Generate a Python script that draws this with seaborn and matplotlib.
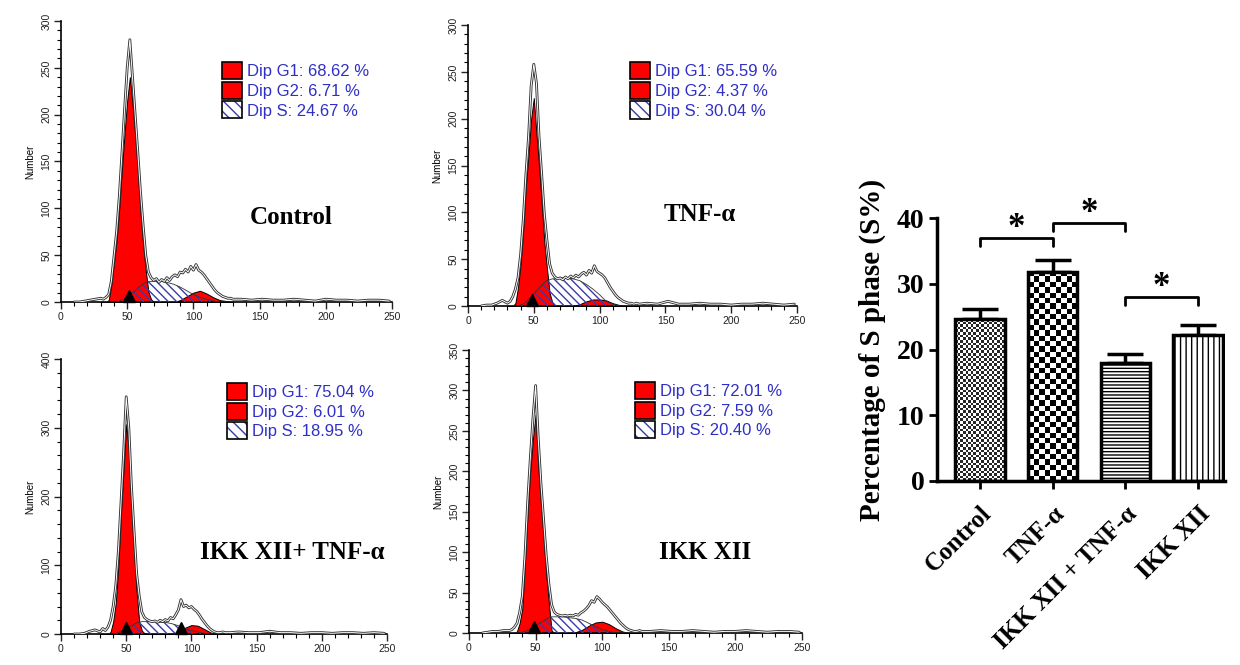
import numpy as np
import matplotlib
matplotlib.use('Agg')
import matplotlib.pyplot as plt
import matplotlib.patheffects as pe
from matplotlib.patches import Patch
from matplotlib.ticker import MultipleLocator
from matplotlib.transforms import offset_copy
import seaborn as sns

# ---- cell cycle histograms ----
panel_names = ['Control', 'TNF-α', 'IKK XII+ TNF-α', 'IKK XII']
dip_g1 = [68.62, 65.59, 75.04, 72.01]
dip_g2 = [6.71, 4.37, 6.01, 7.59]
dip_s = [24.67, 30.04, 18.95, 20.40]
y_max = [300, 300, 400, 350]
y_major = [50, 50, 100, 50]
peak_marks = [[51], [49], [50, 92], [49]]

# channels of the fitted components
fit_ch = [30, 34, 36, 38, 40, 42, 44, 46, 48, 50, 52, 54, 56, 58, 60, 62,
          64, 66, 68, 70, 75, 80, 85, 90, 95, 100, 105, 110, 115, 120, 125, 130]

g1_ctrl = [0, 0, 2, 18, 42, 66, 100, 142, 180, 215, 240, 212, 178, 140, 96, 62,
           34, 11, 3, 0, 0, 0, 0, 0, 0, 0, 0, 0, 0, 0, 0, 0]
s_ctrl = [0, 0, 0, 0, 0, 0, 1, 2, 4, 6, 8, 10, 12, 15, 17, 19,
          21, 22, 22, 22, 22, 21, 19, 16, 12, 8, 5, 3, 1, 0, 0, 0]
g2_ctrl = [0, 0, 0, 0, 0, 0, 0, 0, 0, 0, 0, 0, 0, 0, 0, 0,
           0, 0, 0, 0, 0, 0, 0, 2, 6, 10, 12, 9, 5, 2, 1, 0]

g1_tnf = [0, 0, 3, 20, 45, 82, 128, 162, 200, 222, 184, 150, 110, 68, 40, 14,
          4, 1, 0, 0, 0, 0, 0, 0, 0, 0, 0, 0, 0, 0, 0, 0]
s_tnf = [0, 0, 0, 0, 1, 2, 4, 7, 10, 13, 16, 19, 22, 25, 27, 28,
         29, 29, 30, 30, 30, 29, 27, 23, 18, 12, 5, 2, 0, 0, 0, 0]
g2_tnf = [0, 0, 0, 0, 0, 0, 0, 0, 0, 0, 0, 0, 0, 0, 0, 0,
          0, 0, 0, 0, 0, 0, 2, 5, 7, 7, 6, 3, 1, 0, 0, 0]

g1_combo = [0, 0, 0, 3, 18, 45, 100, 175, 240, 305, 268, 180, 120, 60, 18, 5,
            1, 0, 0, 0, 0, 0, 0, 0, 0, 0, 0, 0, 0, 0, 0, 0]
s_combo = [0, 0, 0, 0, 0, 1, 2, 4, 6, 8, 10, 12, 14, 16, 17, 18,
           18, 18, 18, 18, 17, 17, 15, 12, 8, 5, 3, 1, 0, 0, 0, 0]
g2_combo = [0, 0, 0, 0, 0, 0, 0, 0, 0, 0, 0, 0, 0, 0, 0, 0,
            0, 0, 0, 0, 0, 0, 0, 3, 9, 13, 12, 7, 2, 0, 0, 0]

g1_ikk = [0, 0, 2, 12, 30, 87, 148, 200, 240, 270, 205, 160, 117, 72, 36, 3,
          0, 0, 0, 0, 0, 0, 0, 0, 0, 0, 0, 0, 0, 0, 0, 0]
s_ikk = [0, 0, 0, 0, 1, 2, 3, 5, 7, 9, 11, 13, 15, 17, 19, 20,
         20, 20, 20, 20, 19, 18, 16, 12, 8, 4, 2, 0, 0, 0, 0, 0]
g2_ikk = [0, 0, 0, 0, 0, 0, 0, 0, 0, 0, 0, 0, 0, 0, 0, 0,
          0, 0, 0, 0, 0, 1, 4, 9, 13, 14, 11, 6, 2, 0, 0, 0]

# raw histogram counts
raw_ch = [10, 14, 18, 22, 26, 30] + list(range(32, 131, 2)) + list(range(136, 249, 8))

raw_ctrl = [0, 0, 1, 2, 3, 4,
            3, 5, 8, 22, 48, 75, 112, 158, 205, 250,
            280, 240, 200, 160, 118, 82, 50, 32, 26, 23,
            25, 21, 24, 22, 26, 23, 27, 29, 27, 32,
            31, 35, 32, 38, 34, 40, 34, 32, 29, 25,
            21, 17, 13, 10, 8, 6, 5, 4, 4, 3,
            3, 2, 3, 2, 2, 3, 2, 1, 3, 2, 2, 1, 2, 2, 1]
raw_tnf = [0, 1, 1, 3, 6, 3,
           5, 10, 18, 30, 55, 92, 140, 180, 235, 258,
           238, 180, 140, 98, 70, 45, 35, 31, 29, 30,
           28, 31, 29, 32, 30, 33, 31, 34, 36, 33,
           38, 35, 43, 37, 35, 33, 30, 25, 20, 16,
           12, 9, 7, 5, 4, 3, 3, 2, 3, 2,
           3, 2, 5, 2, 2, 3, 2, 2, 1, 2, 2, 3, 2, 1, 2]
raw_combo = [0, 0, 1, 4, 6, 3,
             8, 5, 10, 20, 40, 70, 120, 190, 262, 345,
             300, 215, 150, 88, 55, 32, 24, 21, 19, 18,
             19, 17, 20, 18, 21, 19, 24, 22, 28, 35,
             50, 40, 42, 38, 40, 36, 33, 28, 22, 17,
             12, 8, 5, 3, 2, 2, 3, 2, 2, 2,
             3, 2, 2, 4, 2, 2, 1, 2, 2, 1, 2, 2, 1, 2, 1]
raw_ikk = [0, 1, 2, 2, 3, 3,
           4, 7, 12, 25, 45, 95, 160, 215, 265, 306,
           240, 185, 140, 95, 60, 35, 26, 23, 22, 21,
           22, 21, 22, 21, 23, 22, 25, 27, 30, 34,
           40, 38, 45, 42, 38, 35, 32, 28, 24, 20,
           16, 12, 9, 6, 4, 3, 2, 2, 3, 2,
           2, 3, 2, 2, 3, 2, 1, 2, 2, 3, 2, 1, 2, 2, 1]

g1_fits = [g1_ctrl, g1_tnf, g1_combo, g1_ikk]
s_fits = [s_ctrl, s_tnf, s_combo, s_ikk]
g2_fits = [g2_ctrl, g2_tnf, g2_combo, g2_ikk]
raws = [raw_ctrl, raw_tnf, raw_combo, raw_ikk]

# ---- S phase bar chart ----
groups = ['Control', 'TNF-α', 'IKK XII + TNF-α', 'IKK XII']
s_phase = [24.6, 31.8, 18.0, 22.2]
s_err = [1.5, 1.8, 1.3, 1.6]
sig_pairs = [(0, 1), (1, 2), (2, 3)]
sig_level = [37.0, 39.3, 28.0]

sns.set_style('ticks')
plt.rcParams['font.family'] = ['Liberation Sans', 'DejaVu Sans']
plt.rcParams['hatch.linewidth'] = 1.0
for key in ['text.color', 'axes.labelcolor', 'xtick.color', 'ytick.color', 'axes.edgecolor']:
    plt.rcParams[key] = 'black'
SERIF = ['Liberation Serif', 'DejaVu Serif']
W, H = 1240, 665

fig = plt.figure(figsize=(W / 100, H / 100), dpi=100)


def px_axes(l, r, b, t):
    return fig.add_axes([l / W, 1 - b / H, (r - l) / W, (b - t) / H])


# pixel boxes (left, right, y=0, y=max) for the four histograms
boxes = [(61, 392, 302, 21), (468, 797, 306, 25), (61, 387, 634, 359), (469, 802, 633, 350)]
legend_pos = [(0.486, 0.854), (0.492, 0.868), (0.509, 0.913), (0.498, 0.887)]
title_pos = [(0.695, 0.30), (0.705, 0.324), (0.709, 0.298), (0.709, 0.286)]
blue = '#2f2fc8'
hatch_blue = '#3a3aa8'

for i in range(4):
    ax = px_axes(*boxes[i])
    ax.fill_between(fit_ch, 0, g1_fits[i], facecolor='#ff0000', edgecolor='black', lw=0.7, zorder=2)
    ax.fill_between(fit_ch, 0, g2_fits[i], facecolor='#ff0000', edgecolor='black', lw=0.7, zorder=2)
    ax.fill_between(fit_ch, 0, s_fits[i], facecolor='none', edgecolor=hatch_blue, hatch='\\\\\\\\',
                    lw=0, zorder=3)
    ax.plot(fit_ch, s_fits[i], color='#333333', lw=0.6, zorder=3)
    sns.lineplot(x=raw_ch, y=raws[i], ax=ax, color='white', lw=0.7, estimator=None, sort=False,
                 zorder=4, path_effects=[pe.Stroke(linewidth=2.0, foreground='#303030'), pe.Normal()])
    tri = offset_copy(ax.transData, fig=fig, y=4, units='points')
    ax.plot(peak_marks[i], [0] * len(peak_marks[i]), ls='none', marker='^', color='black',
            ms=8, clip_on=False, zorder=5, transform=tri)

    ax.set_xlim(0, 250)
    ax.set_ylim(0, y_max[i])
    ax.xaxis.set_major_locator(MultipleLocator(50))
    ax.xaxis.set_minor_locator(MultipleLocator(10))
    ax.yaxis.set_major_locator(MultipleLocator(y_major[i]))
    ax.yaxis.set_minor_locator(MultipleLocator(y_major[i] / 5))
    ax.tick_params(which='major', length=5, width=1, labelsize=7.5, colors='#222222', pad=2)
    ax.tick_params(which='minor', length=3, width=0.8)
    for lab in ax.get_yticklabels():
        lab.set_rotation(90)
        lab.set_va('center')
    for side in ['top', 'right']:
        ax.spines[side].set_visible(False)
    for side in ['left', 'bottom']:
        ax.spines[side].set_linewidth(1.2)
    ax.set_ylabel('Number', fontsize=7, labelpad=4)
    ax.set_facecolor('white')

    handles = [Patch(facecolor='#ff0000', edgecolor='black', lw=1.2),
               Patch(facecolor='#ff0000', edgecolor='black', lw=1.2),
               (Patch(facecolor='white', edgecolor=hatch_blue, hatch='\\\\\\', lw=0),
                Patch(facecolor='none', edgecolor='black', lw=1.2))]
    labels = [f'Dip G1: {dip_g1[i]:.2f} %', f'Dip G2: {dip_g2[i]:.2f} %', f'Dip S: {dip_s[i]:.2f} %']
    ax.legend(handles, labels, loc='upper left', bbox_to_anchor=legend_pos[i], frameon=False,
              fontsize=12, labelcolor=blue, handlelength=1.2, handleheight=1.2,
              handletextpad=0.3, labelspacing=0.15, borderpad=0, borderaxespad=0)
    ax.text(*title_pos[i], panel_names[i], transform=ax.transAxes, ha='center', va='center',
            fontsize=18, fontweight='bold', family=SERIF)

# ---- bar chart ----
bx = px_axes(937, 1225, 481, 218)
sns.barplot(x=groups, y=s_phase, ax=bx, color='white', edgecolor='black', linewidth=2.5,
            width=0.68, errorbar=None, saturation=1)
bx.errorbar(range(4), s_phase, yerr=[np.zeros(4), s_err], fmt='none', ecolor='black',
            elinewidth=2.5, capsize=13, capthick=2.5, zorder=0.5)
bx.set_xlim(-0.59, 3.37)
bx.set_ylim(0, 40)

bars = bx.patches[:4]
bars[2].set_hatch('-----')
bars[3].set_hatch('|||')


def checker(n_rows, n_cols):
    r, c = np.indices((n_rows, n_cols))
    return (r + c) % 2


for bar, cell, dark in [(bars[0], 2.6, 0.15), (bars[1], 5.3, 0.0)]:
    x0, w, h = bar.get_x(), bar.get_width(), bar.get_height()
    p0 = bx.transData.transform((x0, 0))
    p1 = bx.transData.transform((x0 + w, h))
    n_cols = max(1, int(round((p1[0] - p0[0]) / cell)))
    n_rows = max(1, int(round((p1[1] - p0[1]) / cell)))
    img = checker(n_rows, n_cols) * (1 - dark) + dark
    bar.set_facecolor('none')
    bar.set_zorder(3)
    im = bx.imshow(img, extent=[x0, x0 + w, 0, h], cmap='gray', vmin=0, vmax=1,
                   interpolation='nearest', aspect='auto', zorder=2)
    im.set_clip_path(bar)
bx.set_xlim(-0.59, 3.37)
bx.set_ylim(0, 40)
bx.set_aspect('auto')

for (a, b), lvl in zip(sig_pairs, sig_level):
    bx.plot([a, a, b, b], [lvl - 1.3, lvl, lvl, lvl - 1.3], color='black', lw=2, clip_on=False)
    bx.text((a + b) / 2, lvl + 1.4, '*', ha='center', va='center', fontsize=25,
            fontweight='bold', family=SERIF, clip_on=False)

bx.set_yticks([0, 10, 20, 30, 40])
bx.set_xticks(range(4))
bx.set_xticklabels(groups, rotation=45, ha='right', rotation_mode='anchor',
                   fontsize=18, fontweight='bold', family=SERIF)
for lab in bx.get_yticklabels():
    lab.set_fontsize(20)
    lab.set_fontweight('bold')
    lab.set_family(SERIF)
bx.tick_params(axis='y', width=2, length=6, direction='out', pad=3)
bx.tick_params(axis='x', width=2, length=6, direction='out', pad=9)
bx.set_ylabel('Percentage of S phase (S%)', fontsize=21, fontweight='bold', family=SERIF, labelpad=8)
for side in ['top', 'right']:
    bx.spines[side].set_visible(False)
for side in ['left', 'bottom']:
    bx.spines[side].set_linewidth(2.5)

fig.savefig('out.png', dpi=100, facecolor='white')
